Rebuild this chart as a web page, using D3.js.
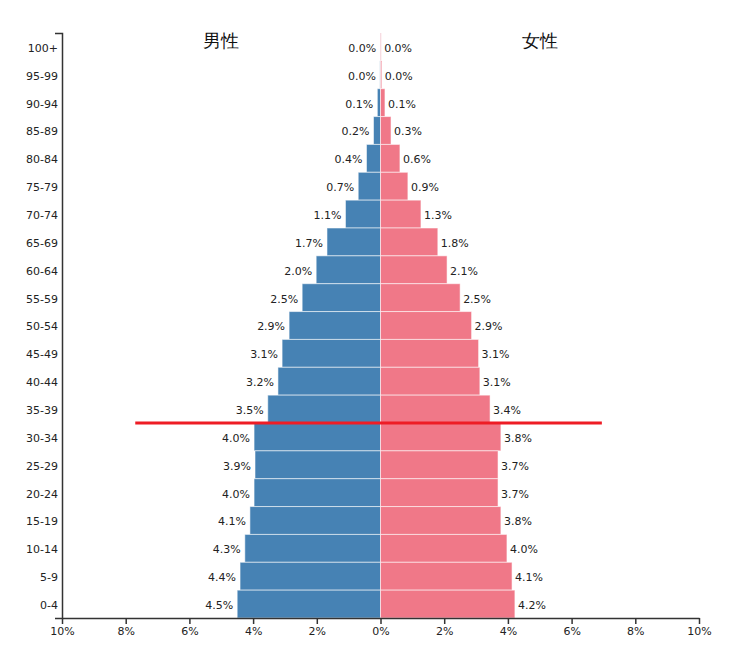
<!DOCTYPE html>
<html><head><meta charset="utf-8">
<script src="https://cdn.jsdelivr.net/npm/d3@7"></script>
<style>
body{margin:0;background:#fff;}
svg text{font-family:"DejaVu Sans",Verdana,sans-serif;}
</style></head>
<body><svg id="c" width="730" height="652"></svg>
<script>
const ageGroups = ["100+","95-99","90-94","85-89","80-84","75-79","70-74","65-69","60-64","55-59","50-54","45-49","40-44","35-39","30-34","25-29","20-24","15-19","10-14","5-9","0-4"];
const maleValues   = [0.01,0.02,0.10,0.22,0.44,0.70,1.10,1.68,2.02,2.46,2.87,3.09,3.22,3.54,3.97,3.94,3.97,4.10,4.26,4.41,4.50];
const femaleValues = [0.02,0.04,0.14,0.33,0.61,0.86,1.27,1.80,2.09,2.50,2.86,3.08,3.12,3.44,3.78,3.69,3.69,3.78,3.97,4.13,4.22];
const xTicks = [-10,-8,-6,-4,-2,0,2,4,6,8,10];
const seriesTitles = ["男性","女性"];
const markerBoundary = ["35-39","30-34"];
const markerRange = [-7.7, 6.95];

const svg = d3.select("#c");
const x = d3.scaleLinear().domain([-10,10]).range([62,699]);
const y = d3.scaleBand().domain(ageGroups).range([33,618]).padding(0);

// bars
svg.append("g").selectAll("rect").data(ageGroups).join("rect")
  .attr("x", (d,i)=>x(-maleValues[i])).attr("y", d=>y(d))
  .attr("width",(d,i)=>x(0)-x(-maleValues[i])).attr("height", y.bandwidth())
  .attr("fill","#4682b4").attr("stroke","#fff").attr("stroke-opacity",0.55).attr("stroke-width",1);
svg.append("g").selectAll("rect").data(ageGroups).join("rect")
  .attr("x", x(0)).attr("y", d=>y(d))
  .attr("width",(d,i)=>x(femaleValues[i])-x(0)).attr("height", y.bandwidth())
  .attr("fill","#f07888").attr("stroke","#fff").attr("stroke-opacity",0.55).attr("stroke-width",1);

// labels
svg.append("g").selectAll("text").data(ageGroups).join("text")
  .attr("x",(d,i)=>x(-maleValues[i])-4).attr("y",d=>y(d)+y.bandwidth()/2).attr("dy","0.45em")
  .attr("text-anchor","end").attr("font-size",11).attr("fill","#222")
  .text((d,i)=>maleValues[i].toFixed(1)+"%");
svg.append("g").selectAll("text").data(ageGroups).join("text")
  .attr("x",(d,i)=>x(femaleValues[i])+3).attr("y",d=>y(d)+y.bandwidth()/2).attr("dy","0.45em")
  .attr("text-anchor","start").attr("font-size",11).attr("fill","#222")
  .text((d,i)=>femaleValues[i].toFixed(1)+"%");

// axes
const ya = svg.append("g").attr("transform","translate(62,0)")
  .call(d3.axisLeft(y).tickSizeInner(0).tickSizeOuter(7).tickPadding(4));
ya.selectAll(".tick text").attr("dy","0.45em");
const xa = svg.append("g").attr("transform","translate(0,618)")
  .call(d3.axisBottom(x).tickValues(xTicks).tickFormat(d=>Math.abs(d)+"%").tickSizeOuter(0));
[ya,xa].forEach(a=>{
  a.selectAll("text").attr("font-size",11).attr("fill","#222").attr("font-family","DejaVu Sans, Verdana, sans-serif");
  a.select(".domain").attr("stroke","#333").attr("stroke-width",1.5);
  a.selectAll(".tick line").attr("stroke","#333").attr("stroke-width",1.5);
});

// titles
svg.append("text").attr("x",221).attr("y",47).attr("text-anchor","middle").attr("font-size",18)
  .attr("font-family","Noto Sans CJK JP").attr("fill","#111").text(seriesTitles[0]);
svg.append("text").attr("x",540).attr("y",47).attr("text-anchor","middle").attr("font-size",18)
  .attr("font-family","Noto Sans CJK JP").attr("fill","#111").text(seriesTitles[1]);

// marker line
const my = y(markerBoundary[1]);
svg.append("line").attr("x1",x(markerRange[0])).attr("x2",x(markerRange[1]))
  .attr("y1",my).attr("y2",my).attr("stroke","#ee1c25").attr("stroke-width",3);
</script></body></html>
